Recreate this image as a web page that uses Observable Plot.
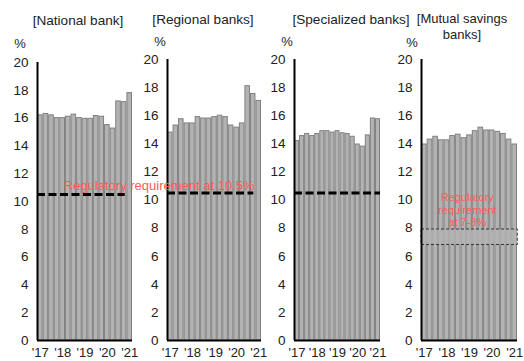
<!DOCTYPE html>
<html><head><meta charset="utf-8">
<script src="https://cdn.jsdelivr.net/npm/d3@7"></script>
<script src="https://cdn.jsdelivr.net/npm/@observablehq/plot@0.6"></script>
<style>
body{margin:0;background:#fff;}
#root{position:relative;width:524px;height:361px;font-family:"Liberation Sans",Arial,sans-serif;overflow:hidden;background:#fff}
.t{position:absolute;font-size:13.6px;color:#222;white-space:nowrap;transform:translate(-50%,-50%);line-height:1;text-align:center}
.pct{font-size:13px}
.p{position:absolute;top:0}
</style></head><body><div id="root"></div>
<script>
const quarters = ["2017Q1","2017Q2","2017Q3","2017Q4","2018Q1","2018Q2","2018Q3","2018Q4","2019Q1","2019Q2","2019Q3","2019Q4","2020Q1","2020Q2","2020Q3","2020Q4","2021Q1"];
const yearTicks = ["'17","'18","'19","'20","'21"];
const national = [16.2,16.3,16.2,16.0,16.0,16.1,16.25,16.0,15.95,15.95,16.15,16.1,15.5,15.25,17.2,17.15,17.8];
const regional = [14.8,15.3,15.75,15.45,15.45,15.9,15.8,15.8,15.9,16.0,15.9,15.3,15.15,15.45,18.1,17.55,17.05];
const specialized = [14.2,14.55,14.7,14.55,14.7,14.9,14.9,14.8,14.9,14.75,14.7,14.5,13.95,13.8,14.6,15.8,15.75];
const mutualSavings = [13.95,14.3,14.5,14.25,14.25,14.55,14.65,14.4,14.6,14.9,15.15,14.95,14.95,14.85,14.7,14.3,13.95];
const titles = ["[National bank]","[Regional banks]","[Specialized banks]","[Mutual savings\nbanks]"];
const requirementBanks = 10.5;
const requirementSavings = [6.8, 7.9];
const noteBanks = "Regulatory requirement at 10.5%";
const noteSavings = "Regulatory\nrequirement\nat 7-8%";

const root = document.getElementById("root");

function panel(values, cfg) {
  const data = values.map((v, i) => ({i, q: quarters[i], v}));
  const n = values.length;
  const marks = [
    Plot.rectY(data, {x1: d => d.i, x2: d => d.i + 1, y1: 0, y2: "v", fill: "#b3b3b3", stroke: "#808080", strokeWidth: 1, insetLeft: 0.5, insetRight: 0.5})
  ];
  if (cfg.dashEnd != null) {
    marks.push(Plot.ruleY([requirementBanks], {x1: 0, x2: cfg.dashEnd, stroke: "black", strokeWidth: 3, strokeDasharray: "8,3.5"}));
  }
  if (cfg.band) {
    marks.push(Plot.rect([requirementSavings], {x1: 0, x2: n + 0.05, y1: d => d[0], y2: d => d[1], fill: "#b3b3b3", fillOpacity: 0.8, stroke: "#333", strokeWidth: 1, strokeDasharray: "3,2"}));
    marks.push(Plot.text([noteSavings], {x: 8.1, y: 9.3, text: d => d, fill: "#ff5a5a", fontSize: 11, lineHeight: 1.13, lineAnchor: "middle"}));
  }
  if (cfg.note) {
    marks.push(Plot.text([noteBanks], {x: 4.7, y: 11.15, text: d => d, textAnchor: "start", fill: "#ff5a5a", fontSize: 13}));
  }
  marks.push(Plot.ruleY([0], {stroke: "black", strokeWidth: 2}));
  marks.push(Plot.ruleX([0], {stroke: "black", strokeWidth: 2}));
  marks.push(Plot.axisY({ticks: d3.range(0, 21, 2), tickSize: 0, tickPadding: 9, fontSize: 13.5, label: null, fill: "#222"}));
  marks.push(Plot.axisX({ticks: [0.5, 4.5, 8.5, 12.5, 16.5], tickFormat: d => yearTicks[Math.round((d - 0.5) / 4)], tickSize: 0, tickPadding: 7, fontSize: 13, label: null, fill: "#222"}));
  const svg = Plot.plot({
    width: cfg.width, height: 361,
    marginTop: cfg.marginTop, marginBottom: 21, marginLeft: cfg.marginLeft, marginRight: cfg.marginRight,
    x: {type: "linear", domain: [0, n]},
    y: {domain: [0, 20]},
    style: {overflow: "visible", fontFamily: '"Liberation Sans", Arial, sans-serif', background: "transparent"},
    marks
  });
  const wrap = document.createElement("div");
  wrap.className = "p";
  wrap.style.left = cfg.left + "px";
  wrap.style.zIndex = cfg.z;
  wrap.appendChild(svg);
  root.appendChild(wrap);
}

panel(national,      {left: 0,   width: 136, marginLeft: 37, marginRight: 4, marginTop: 62, dashEnd: 15.7, note: true, z: 5});
panel(regional,      {left: 130, width: 136, marginLeft: 37, marginRight: 5, marginTop: 59, dashEnd: 15.6, z: 4});
panel(specialized,   {left: 260, width: 124, marginLeft: 34, marginRight: 4, marginTop: 59, dashEnd: 17, z: 3});
panel(mutualSavings, {left: 388, width: 136, marginLeft: 33, marginRight: 7, marginTop: 59, band: true, z: 2});

const labels = [
  {text: titles[0], x: 78, y: 21},
  {text: titles[1], x: 203, y: 20},
  {text: titles[2], x: 351, y: 20},
  {text: titles[3], x: 462, y: 26.5},
  {text: "%", x: 20, y: 43, cls: "pct"},
  {text: "%", x: 160, y: 41, cls: "pct"},
  {text: "%", x: 287, y: 41, cls: "pct"},
  {text: "%", x: 412, y: 42, cls: "pct"}
];
for (const l of labels) {
  const d = document.createElement("div");
  d.className = "t" + (l.cls ? " " + l.cls : "");
  d.style.left = l.x + "px";
  d.style.top = l.y + "px";
  d.style.zIndex = 10;
  if (l.text.includes("\n")) { d.style.lineHeight = "1.25"; d.style.fontSize = "13px"; }
  d.innerText = l.text;
  root.appendChild(d);
}
</script></body></html>
